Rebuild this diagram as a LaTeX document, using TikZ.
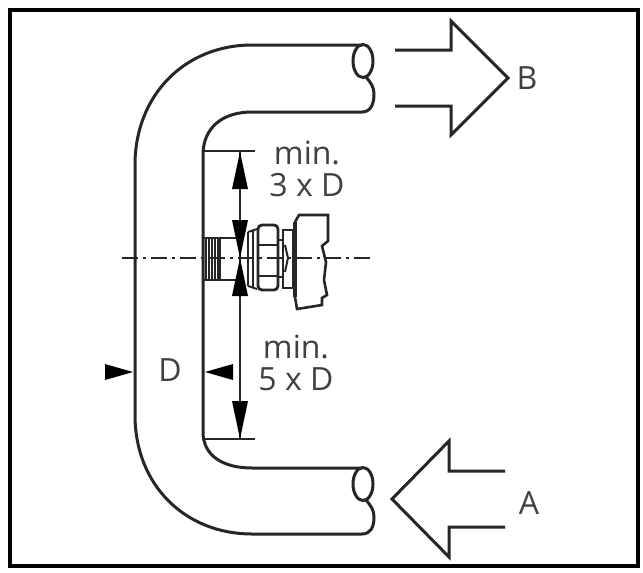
\documentclass[tikz,border=0pt]{standalone}
\usepackage{fontspec}
\setmainfont{Open Sans}
\usetikzlibrary{calc,arrows.meta,positioning}

\tikzset{
    outline/.style={line width=3pt,black!85,line join=miter},
    thin part/.style={line width=2pt,black!85},
    dimline/.style={line width=2.6pt,black!85},
    dimtip/.style={fill=black,draw=none},
    label/.style={font=\fontsize{32}{36}\selectfont,text=black!75,inner sep=0pt},
}

\begin{document}
\begin{tikzpicture}[x=1pt,y=-1pt]
        \useasboundingbox (0,0) rectangle (643,573);

        %frame
        \node[draw=black,line width=3.5pt,minimum width=628pt,minimum height=556pt,inner sep=0pt] (frame) at (324,288) {};

        %points on the pipe
        \coordinate (topend) at (362,45);
        \coordinate (topendlow) at (362,112);
        \coordinate (botend) at (362,468);
        \coordinate (botendlow) at (362,534);

        %pipe
        \draw[outline] (topend) -- (252,45) .. controls (185,45) and (135,95) .. (135,165)
            -- (135,415) .. controls (135,485) and (185,534) .. (252,534) -- (botendlow);
        \draw[outline] (topendlow) -- (252,112) .. controls (222,112) and (203,128) .. (203,155)
            -- (203,432) .. controls (203,455) and (222,468) .. (252,468) -- (botend);

        %pipe ends
        \draw[outline] (363,61) ellipse[x radius=10,y radius=16.5];
        \draw[outline] (366,77) .. controls (371,83) and (374,87) .. (374,94) .. controls (374,105) and (370,112) .. (topendlow);
        \draw[outline] (363,484) ellipse[x radius=10,y radius=16.5];
        \draw[outline] (366,500) .. controls (371,506) and (374,510) .. (374,517) .. controls (374,528) and (370,534) .. (botendlow);

        %flow arrows
        \draw[outline] (395,50) -- (451,50) -- (451,21) -- (508,78) -- (451,135) -- (451,106) -- (395,106);
        \draw[outline] (505,471) -- (449,471) -- (449,441) -- (392,499) -- (449,557) -- (449,527) -- (505,527);

        %fitting
        \begin{scope}[thin part]
            \draw (203,238) rectangle (220,280);
            \foreach \x in {206,209,212,215,218} {
                \draw (\x,238) -- (\x,280);
            }
            \draw (220,238) -- (236,238);
            \draw (220,280) -- (236,280);
            \draw (248,232) -- (257,229) (248,286) -- (257,289);
            \draw (248,232) -- (248,286);
            \draw (253,230) -- (253,288);
            \draw[rounded corners=4pt,line width=2.8pt] (258,225) rectangle (278,290);
            \draw[line width=2.8pt] (258,245) -- (278,245) (258,276) -- (278,276);
            \draw (278,240) -- (283,240) (278,277) -- (283,277);
            \draw[line width=2.8pt] (283,230) rectangle (293,288);
            \draw (285,245) -- (288,258) -- (285,272);
            \draw[line width=4.5pt] (295,222) -- (295,297);
            \draw[line width=2.6pt] (295,222) -- (299,215) -- (328,215) -- (328,241) -- (322,246)
                -- (326,262) -- (324,280) -- (327,295) -- (322,298) -- (322,305) -- (297,309) -- (295,297);
        \end{scope}

        %axis
        \coordinate (axisstart) at (122,258);
        \coordinate (axisend) at (371,258);
        \draw[line width=2.8pt,black!85,dash pattern=on 16pt off 5pt on 3pt off 5pt] (axisstart) -- (axisend);

        %dimension lines
        \coordinate (upper) at (240,152);
        \coordinate (middle) at (240,258);
        \coordinate (lower) at (240,439);
        \draw[thin part] (203,151) -- (255,151);
        \draw[thin part] (203,439) -- (255,439);
        \draw[dimline] (upper) -- (middle);
        \draw[dimline] (middle) -- (lower);
        \fill[dimtip] (upper) -- ++(8,37) -- ++(-16,0) -- cycle;
        \fill[dimtip] (middle) -- ++(8,-38) -- ++(-16,0) -- cycle;
        \fill[dimtip] (middle) -- ++(8,38) -- ++(-16,0) -- cycle;
        \fill[dimtip] (lower) -- ++(8,-38) -- ++(-16,0) -- cycle;

        %width of the pipe
        \coordinate (dleft) at (133,372);
        \coordinate (dright) at (205,372);
        \fill[dimtip] (dleft) -- ++(-28,-8) -- ++(0,16) -- cycle;
        \fill[dimtip] (dright) -- ++(28,-8) -- ++(0,16) -- cycle;

        %labels
        \node[label] (labelB) at (527,78) {B};
        \node[label] (labelA) at (529,503) {A};
        \node[label] (labelD) at (170,370) {D};
        \node[label] (min3) at (307,153) {min.};
        \node[label,below = 8pt of min3] (three) {3 x D};
        \node[label] (min5) at (296,347) {min.};
        \node[label,below = 8pt of min5] (five) {5 x D};
\end{tikzpicture}
\end{document}
